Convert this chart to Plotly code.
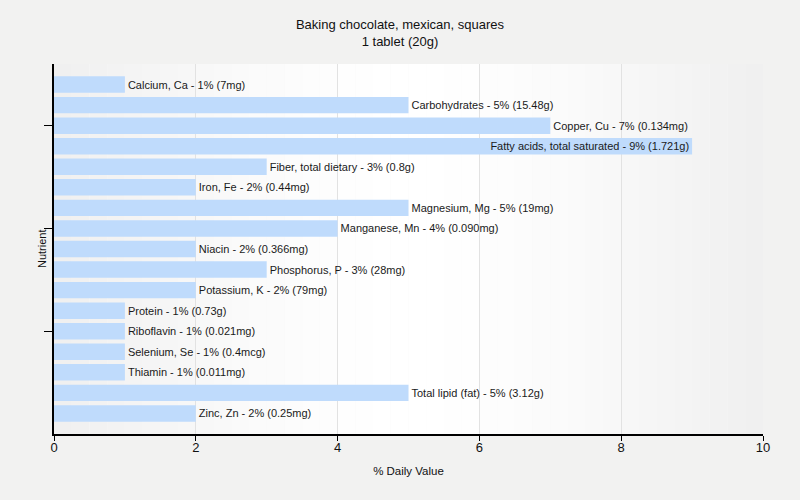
import plotly.graph_objects as go

nutrients = ["Calcium, Ca", "Carbohydrates", "Copper, Cu", "Fatty acids, total saturated",
             "Fiber, total dietary", "Iron, Fe", "Magnesium, Mg", "Manganese, Mn", "Niacin",
             "Phosphorus, P", "Potassium, K", "Protein", "Riboflavin", "Selenium, Se",
             "Thiamin", "Total lipid (fat)", "Zinc, Zn"]
daily_values = [1, 5, 7, 9, 3, 2, 5, 4, 2, 3, 2, 1, 1, 1, 1, 5, 2]
amounts = ["7mg", "15.48g", "0.134mg", "1.721g", "0.8g", "0.44mg", "19mg", "0.090mg",
           "0.366mg", "28mg", "79mg", "0.73g", "0.021mg", "0.4mcg", "0.011mg", "3.12g", "0.25mg"]
x_ticks = [0, 2, 4, 6, 8, 10]
y_tick_cats = ["Copper, Cu", "Manganese, Mn", "Riboflavin"]

labels = [f"{n} - {v}% ({a})" for n, v, a in zip(nutrients, daily_values, amounts)]
positions = ["inside" if v >= 9 else "outside" for v in daily_values]

fig = go.Figure()

# gradient background for plot area
steps = 40
for i in range(steps):
    t = (i + 0.5) / steps
    d = abs(t - 0.5) * 2
    g = int(round(255 - 16 * d ** 1.5))
    fig.add_shape(type="rect", xref="x domain", yref="y domain",
                  x0=i / steps, x1=(i + 1) / steps, y0=0, y1=1,
                  fillcolor=f"rgb({g},{g},{g})", line=dict(width=0), layer="below")

fig.add_trace(go.Bar(
    y=nutrients, x=daily_values, orientation="h",
    marker=dict(color="#bfdbfc", line=dict(width=0)),
    width=0.8,
    text=labels, textposition=positions,
    insidetextanchor="end",
    constraintext="none",
    textfont=dict(family="Liberation Sans, Arial, sans-serif", size=11, color="#1a1a1a"),
    cliponaxis=False,
    hoverinfo="skip",
))

fig.update_layout(
    width=800, height=500,
    paper_bgcolor="#f2f2f1",
    plot_bgcolor="#f7f7f7",
    margin=dict(l=54, r=37, t=64, b=66, autoexpand=False),
    showlegend=False,
    title=dict(text="Baking chocolate, mexican, squares<br>1 tablet (20g)",
               x=0.5, xanchor="center", y=0.942, yanchor="middle",
               font=dict(family="Liberation Sans, Arial, sans-serif", size=13, color="#111")),
    font=dict(family="Liberation Sans, Arial, sans-serif", size=12, color="#111"),
    bargap=0.2,
    annotations=[dict(text="Nutrient", xref="paper", yref="paper", x=0, y=0.5,
                      xanchor="center", yanchor="middle", xshift=-12, textangle=-90,
                      showarrow=False, font=dict(size=11, color="#111"))],
)

fig.update_xaxes(
    range=[0, 10], tickvals=x_ticks, ticks="outside", ticklen=5, tickcolor="#000",
    showline=True, linecolor="#000", linewidth=1.5,
    showgrid=True, gridcolor="#e2e2e2", gridwidth=1, zeroline=False,
    tickfont=dict(size=13, color="#111"),
    ticklabelstandoff=-4,
    title=dict(text="% Daily Value", font=dict(size=11.5), standoff=13),
    automargin=False,
)

fig.update_yaxes(
    type="category", range=[17, -1],
    tickvals=y_tick_cats, ticktext=["", "", ""],
    ticks="outside", ticklen=8, tickcolor="#000",
    showline=True, linecolor="#000", linewidth=1.5,
    showgrid=False, zeroline=False,
    automargin=False,
)

fig.write_html("out.html",
               config={"displayModeBar": False},
               post_script="document.body.style.margin='0';document.body.style.background='#f2f2f1';")
